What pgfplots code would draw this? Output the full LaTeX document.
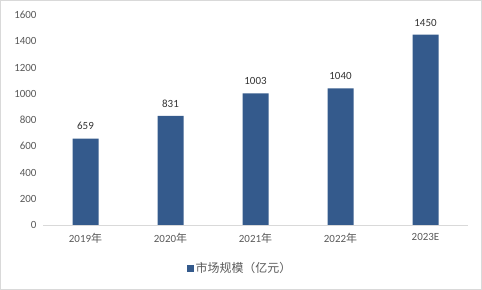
\documentclass[border=0pt]{standalone}
\usepackage{fontspec}
\setmainfont{Carlito}
\newfontfamily\cjk{Noto Sans CJK SC}
\usepackage{pgfplots}
\pgfplotsset{compat=1.18}
\definecolor{barblue}{RGB}{52,90,140}
\definecolor{txt}{RGB}{89,89,89}
\definecolor{axl}{RGB}{217,217,217}
\begin{document}
\begin{tikzpicture}
\useasboundingbox (0,0) rectangle (482bp,290bp);
\draw[axl] (0.5bp,0.5bp) rectangle (481.5bp,289.5bp);
\begin{axis}[
  at={(43bp,65bp)}, anchor=south west,
  scale only axis, width=425bp, height=210bp,
  ymin=0, ymax=1600, ytick={0,200,...,1600},
  xmin=-0.5, xmax=4.5, xtick={0,1,2,3,4},
  xticklabels={2019{\cjk 年},2020{\cjk 年},2021{\cjk 年},2022{\cjk 年},2023E},
  axis x line*=bottom, axis y line*=left,
  x axis line style={draw=axl, line width=0.8bp},
  y axis line style={draw=none},
  major tick length=0,
  /pgf/number format/assume math mode=true,
  /pgf/number format/1000 sep={},
  tick label style={font=\fontsize{11}{13}\selectfont, text=txt},
  yticklabel style={xshift=-3bp},
  xticklabel style={yshift=-5bp},
  ybar, bar width=26bp,
  nodes near coords,
  every node near coord/.append style={font=\fontsize{11}{13}\selectfont, text=black!80, yshift=5bp},
  legend style={at={(axis description cs:0.4635,-0.205)}, anchor=center, draw=none, fill=none,
    font=\fontsize{12}{14}\selectfont\cjk, text=txt, inner sep=0pt},
  legend image code/.code={\fill[barblue] (0bp,-3.5bp) rectangle (7bp,3.5bp);},
]
\addplot[fill=barblue, draw=none] coordinates {(0,659) (1,831) (2,1003) (3,1040) (4,1450)};
\addlegendentry{市场规模（亿元）}
\end{axis}
\end{tikzpicture}
\end{document}
